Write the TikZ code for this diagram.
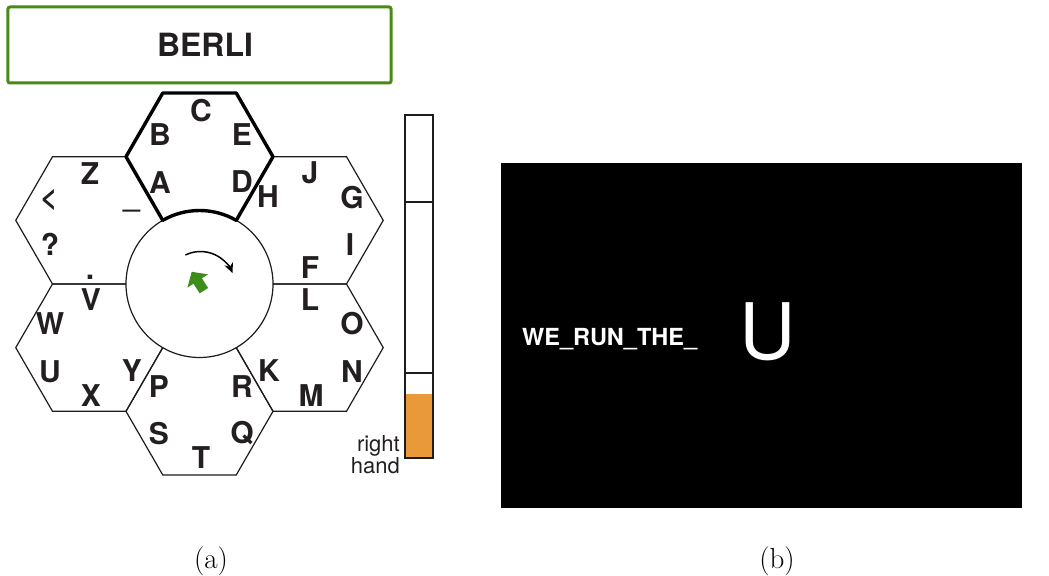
\documentclass[tikz,border=0pt]{standalone}
\usepackage{fontspec}
\newfontfamily\heros{TeX Gyre Heros}
\usetikzlibrary{arrows.meta}

\definecolor{ink}{RGB}{35,31,32}
\definecolor{edgegray}{RGB}{28,28,28}
\definecolor{framegreen}{RGB}{72,138,20}
\definecolor{cursorgreen}{RGB}{62,140,26}
\definecolor{barorange}{RGB}{233,152,58}

\begin{document}
\begin{tikzpicture}[x=1bp, y=-1bp,
  thinline/.style={line width=1.2bp, draw=edgegray, line join=miter},
  boldline/.style={line width=3.4bp, draw=black, line join=round, line cap=round},
  key/.style={font=\heros\bfseries\fontsize{30bp}{30bp}\selectfont, text=ink, inner sep=0pt, anchor=center},
  small/.style={font=\heros\fontsize{22bp}{20bp}\selectfont, text=ink, inner sep=0pt},
  caption/.style={font=\fontsize{29bp}{29bp}\selectfont, inner sep=0pt, anchor=base}]

\useasboundingbox (0,0) rectangle (1049,576);

% ---------- (a) hexagonal speller ----------
\def\R{73.5}
\coordinate (ctr) at (199.5,284);
\coordinate (htop) at (199.5,156.7);
\coordinate (hur)  at (309.75,220.35);
\coordinate (hlr)  at (309.75,347.65);
\coordinate (hbot) at (199.5,411.3);
\coordinate (hll)  at (89.25,347.65);
\coordinate (hul)  at (89.25,220.35);

% thin hexagons
\foreach \c in {hul,hur,hll,hlr,hbot}
  \draw[thinline] (\c) +(0:\R) -- +(60:\R) -- +(120:\R) -- +(180:\R) -- +(240:\R) -- +(300:\R) -- cycle;

% central wheel
\node[circle, thinline, fill=white, minimum size=147bp, inner sep=0pt] (wheel) at (ctr) {};

% highlighted hexagon with its arc on the wheel
\draw[boldline] (htop) +(120:\R) -- +(180:\R) -- +(240:\R) -- +(300:\R) -- +(0:\R) -- +(60:\R);
\draw[boldline] (ctr) ++(240:\R) arc[start angle=240, end angle=300, radius=\R];

% rotation arrow
\draw[line width=1.5bp, -{Stealth[length=10bp, width=9bp]}]
  (200.5,286) ++(-116:34.5) arc[start angle=-116, end angle=-22, radius=34.5];

% green pointer
\fill[cursorgreen] (191.7,271.8) -- (207.99,274.36) -- (201.9,278.29) -- (208.13,287.95)
  -- (199.73,293.37) -- (193.5,283.71) -- (187.41,287.64) -- cycle;

% keys of the highlighted hexagon
\node[key] (kC) at (201,111) {C};
\node[key] (kB) at (160,135) {B};
\node[key] (kE) at (242,135) {E};
\node[key] (kA) at (160,183) {A};
\node[key] (kD) at (242,182) {D};
% upper right
\node[key] (kH) at (268,197) {H};
\node[key] (kJ) at (310,173) {J};
\node[key] (kG) at (352,198) {G};
\node[key] (kI) at (350,245) {I};
\node[key] (kF) at (310,268) {F};
% lower right
\node[key] (kL) at (310,300) {L};
\node[key] (kO) at (352,324) {O};
\node[key] (kN) at (352,372) {N};
\node[key] (kM) at (311,396) {M};
\node[key] (kK) at (269,371) {K};
% bottom
\node[key] (kP) at (159,387) {P};
\node[key] (kR) at (242,387) {R};
\node[key] (kQ) at (242,433) {Q};
\node[key] (kT) at (201,458) {T};
\node[key] (kS) at (159,434) {S};
% lower left
\node[key] (kV) at (91,300) {V};
\node[key] (kW) at (50,324) {W};
\node[key] (kU) at (50,372) {U};
\node[key] (kX) at (91,396) {X};
\node[key] (kY) at (132,371) {Y};
% upper left
\node[key] (kZ) at (90,174) {Z};
\node[key] (klt) at (49,200) {<};
\node[key] (kq) at (50,244) {?};
\node[key] (kdot) at (90,277.5) {.};
\node[key, anchor=base] (kus) at (131.5,207) {\_};

% header with the spelled text
\node[draw=framegreen, line width=3bp, rounded corners=2bp, minimum width=383bp,
      minimum height=76bp, inner sep=0pt] (header) at (199.5,45) {};
\node[font=\heros\bfseries\fontsize{32bp}{32bp}\selectfont, text=ink, inner sep=0pt] (spelled) at (205,45) {BERLI};

% control bar
\draw[thinline, fill=white] (405,115) rectangle (433,458);
\fill[barorange] (405,394) rectangle (433,458);
\draw[thinline] (405,202) -- (433,202);
\draw[thinline] (405,373) -- (433,373);
\draw[thinline] (405,115) rectangle (433,458);
\node[small, align=right, anchor=base east] (hand) at (400,473) {right\\hand};

% ---------- (b) display ----------
\fill[black] (501,163) rectangle (1022,508);
\node[font=\heros\bfseries\fontsize{23.5bp}{24bp}\selectfont, text=white, inner sep=0pt,
      anchor=base west] (typed) at (522,345) {WE\_RUN\_THE\_};
\node[font=\heros\fontsize{78bp}{78bp}\selectfont, text=white, inner sep=0pt, anchor=base]
      (target) at (768,359) {U};

% captions
\node[caption] (capa) at (211,568) {(a)};
\node[caption] (capb) at (777,568) {(b)};
\end{tikzpicture}
\end{document}
